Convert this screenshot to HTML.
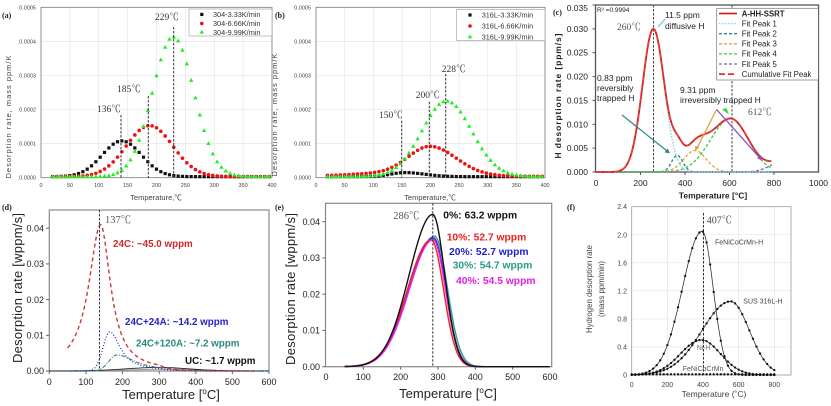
<!DOCTYPE html>
<html><head><meta charset="utf-8">
<style>
html,body{margin:0;padding:0;background:#fff;}
svg{display:block;}
text{font-family:"Liberation Sans",Arial,"Noto Sans CJK SC",sans-serif;}
.sf{font-family:"Liberation Serif","Noto Serif CJK SC",serif;}
</style></head>
<body>
<svg id="s" width="831" height="406" viewBox="0 0 831 406" xmlns="http://www.w3.org/2000/svg">
<rect width="831" height="406" fill="#fff"/>

<!-- ================= (a) ================= -->
<g stroke="#e2e2e2" stroke-width="0.6">
<line x1="69.9" y1="7.3" x2="69.9" y2="177.7"/><line x1="98.75" y1="7.3" x2="98.75" y2="177.7"/><line x1="127.6" y1="7.3" x2="127.6" y2="177.7"/><line x1="156.5" y1="7.3" x2="156.5" y2="177.7"/><line x1="185.4" y1="7.3" x2="185.4" y2="177.7"/><line x1="214.25" y1="7.3" x2="214.25" y2="177.7"/><line x1="243.1" y1="7.3" x2="243.1" y2="177.7"/>
<line x1="41" y1="143.6" x2="272" y2="143.6"/><line x1="41" y1="109.5" x2="272" y2="109.5"/><line x1="41" y1="75.5" x2="272" y2="75.5"/><line x1="41" y1="41.4" x2="272" y2="41.4"/>
</g>
<rect x="41" y="7.3" width="231" height="170.4" fill="none" stroke="#777" stroke-width="0.8"/>
<g font-size="5.5" fill="#444" text-anchor="end">
<text x="36" y="9.3">0.0005</text><text x="36" y="43.4">0.0004</text><text x="36" y="77.5">0.0003</text><text x="36" y="111.5">0.0002</text><text x="36" y="145.6">0.0001</text><text x="36" y="179.7">0.0000</text>
</g>
<g font-size="5.5" fill="#444" text-anchor="middle">
<text x="41" y="187">0</text><text x="69.9" y="187">50</text><text x="98.75" y="187">100</text><text x="127.6" y="187">150</text><text x="156.5" y="187">200</text><text x="185.4" y="187">250</text><text x="214.25" y="187">300</text><text x="243.1" y="187">350</text><text x="272" y="187">400</text>
</g>
<text transform="translate(11,117) rotate(-90)" font-size="7.5" fill="#444" text-anchor="middle" textLength="123">Desorption rate, mass ppm/K</text>
<text x="156" y="200" font-size="7.5" fill="#444" text-anchor="middle">Temperature,℃</text>
<text x="2" y="18" class="sf" font-size="8" font-weight="bold" fill="#222">(a)</text>
<g id="ga"></g>
<g stroke="#333" stroke-width="1" stroke-dasharray="2.5,1.5">
<line x1="121" y1="115" x2="121" y2="178"/><line x1="148.3" y1="96" x2="148.3" y2="178"/><line x1="173.7" y1="27" x2="173.7" y2="178"/>
</g>
<g class="sf" font-size="9.5" fill="#333">
<text x="155" y="20" class="sf">229℃</text><text x="117" y="92" class="sf">185℃</text><text x="97" y="112" class="sf">136℃</text>
</g>
<rect x="189" y="9" width="83" height="27" fill="#fff" stroke="#999" stroke-width="0.6"/>
<rect x="200.2" y="12.8" width="3.2" height="3.2" fill="#111"/>
<circle cx="201.8" cy="23.5" r="1.8" fill="#ee1111"/>
<path d="M201.8 29.7L204 33.6L199.6 33.6Z" fill="#22ee22"/>
<g font-size="7.3" fill="#333">
<text x="213" y="17">304-3.33K/min</text><text x="213" y="26">304-6.66K/min</text><text x="213" y="35">304-9.99K/min</text>
</g>

<!-- ================= (b) ================= -->
<g stroke="#e2e2e2" stroke-width="0.6">
<line x1="344.6" y1="7.3" x2="344.6" y2="177.7"/><line x1="373.25" y1="7.3" x2="373.25" y2="177.7"/><line x1="401.9" y1="7.3" x2="401.9" y2="177.7"/><line x1="430.5" y1="7.3" x2="430.5" y2="177.7"/><line x1="459.1" y1="7.3" x2="459.1" y2="177.7"/><line x1="487.75" y1="7.3" x2="487.75" y2="177.7"/><line x1="516.4" y1="7.3" x2="516.4" y2="177.7"/>
<line x1="316" y1="143.6" x2="545" y2="143.6"/><line x1="316" y1="109.5" x2="545" y2="109.5"/><line x1="316" y1="75.5" x2="545" y2="75.5"/><line x1="316" y1="41.4" x2="545" y2="41.4"/>
</g>
<rect x="316" y="7.3" width="229" height="170.4" fill="none" stroke="#777" stroke-width="0.8"/>
<g font-size="5.5" fill="#444" text-anchor="end">
<text x="311" y="9.3">0.0005</text><text x="311" y="43.4">0.0004</text><text x="311" y="77.5">0.0003</text><text x="311" y="111.5">0.0002</text><text x="311" y="145.6">0.0001</text><text x="311" y="179.7">0.0000</text>
</g>
<g font-size="5.5" fill="#444" text-anchor="middle">
<text x="316" y="187">0</text><text x="344.6" y="187">50</text><text x="373.25" y="187">100</text><text x="401.9" y="187">150</text><text x="430.5" y="187">200</text><text x="459.1" y="187">250</text><text x="487.75" y="187">300</text><text x="516.4" y="187">350</text><text x="545" y="187">400</text>
</g>
<text transform="translate(277,115) rotate(-90)" font-size="7.5" fill="#444" text-anchor="middle" textLength="123">Desorption rate, mass ppm/K</text>
<text x="430" y="200" font-size="7.5" fill="#444" text-anchor="middle">Temperature,℃</text>
<text x="275" y="18" class="sf" font-size="8" font-weight="bold" fill="#222">(b)</text>
<g id="gb"></g>
<g stroke="#333" stroke-width="1" stroke-dasharray="2.5,1.5">
<line x1="401.7" y1="120.7" x2="401.7" y2="178"/><line x1="429.3" y1="101.7" x2="429.3" y2="178"/><line x1="445.7" y1="74" x2="445.7" y2="178"/>
</g>
<g font-size="9.5" fill="#333">
<text x="441.7" y="72" class="sf">228℃</text><text x="415.7" y="98" class="sf">200℃</text><text x="379" y="118" class="sf">150℃</text>
</g>
<rect x="456.7" y="9.3" width="88.3" height="31.4" fill="#fff" stroke="#999" stroke-width="0.6"/>
<rect x="468.4" y="13.4" width="3.2" height="3.2" fill="#111"/>
<circle cx="470" cy="26" r="1.8" fill="#ee1111"/>
<path d="M470 34.4L472.2 38.3L467.8 38.3Z" fill="#22ee22"/>
<g font-size="7.3" fill="#333">
<text x="481.7" y="17.6">316L-3.33K/min</text><text x="481.7" y="28.6">316L-6.66K/min</text><text x="481.7" y="39.3">316L-9.99K/min</text>
</g>

<!-- ================= (c) ================= -->
<rect x="595.5" y="5" width="223" height="167" fill="none" stroke="#555" stroke-width="1.3"/>
<g stroke="#555" stroke-width="1">
<line x1="592.5" y1="5" x2="595.5" y2="5"/><line x1="592.5" y1="28.9" x2="595.5" y2="28.9"/><line x1="592.5" y1="52.7" x2="595.5" y2="52.7"/><line x1="592.5" y1="76.6" x2="595.5" y2="76.6"/><line x1="592.5" y1="100.4" x2="595.5" y2="100.4"/><line x1="592.5" y1="124.3" x2="595.5" y2="124.3"/><line x1="592.5" y1="148.1" x2="595.5" y2="148.1"/><line x1="592.5" y1="172" x2="595.5" y2="172"/>
<line x1="640.5" y1="172" x2="640.5" y2="175"/><line x1="685" y1="172" x2="685" y2="175"/><line x1="729.5" y1="172" x2="729.5" y2="175"/><line x1="774" y1="172" x2="774" y2="175"/>
</g>
<g font-size="8.5" fill="#222" text-anchor="end">
<text x="588" y="11">0.035</text><text x="588" y="32">0.030</text><text x="588" y="55.7">0.025</text><text x="588" y="79.6">0.020</text><text x="588" y="103.4">0.015</text><text x="588" y="127.3">0.010</text><text x="588" y="151.1">0.005</text><text x="588" y="175">0.000</text>
</g>
<g font-size="8.5" fill="#222" text-anchor="middle">
<text x="596" y="186">0</text><text x="640.5" y="186">200</text><text x="685" y="186">400</text><text x="729.5" y="186">600</text><text x="774" y="186">800</text><text x="818.5" y="186">1000</text>
</g>
<text transform="translate(561,96) rotate(-90)" font-size="8.5" font-weight="bold" fill="#222" text-anchor="middle" textLength="125">H desorption rate [ppm/s]</text>
<text x="713" y="198.5" font-size="8.5" font-weight="bold" fill="#222" text-anchor="middle">Temperature [°C]</text>
<text x="553" y="15" class="sf" font-size="8" font-weight="bold" fill="#222">(c)</text>
<g stroke="#444" stroke-width="1" stroke-dasharray="2.5,1.5">
<line x1="653.5" y1="5" x2="653.5" y2="172"/><line x1="732" y1="5" x2="732" y2="172"/>
</g>
<g id="gc"></g>
<!-- arrows -->
<line x1="665" y1="19" x2="658" y2="27" stroke="#66c8e0" stroke-width="1.2"/>
<line x1="622" y1="115" x2="667" y2="151" stroke="#2a8a80" stroke-width="1.2"/>
<path d="M670 153.5L664.5 152.35L667.65 148.45Z" fill="#2a8a80"/>
<line x1="716.6" y1="109.5" x2="697.5" y2="147" stroke="#e8a040" stroke-width="1.3"/>
<path d="M695 151L695.25 145.45L699.35 147.55Z" fill="#e8a040"/>
<line x1="716.6" y1="109.5" x2="759.5" y2="157.5" stroke="#8a4fc0" stroke-width="1.3"/>
<path d="M762 160.5L757 158.3L760.4 155.3Z" fill="#8a4fc0"/>
<path d="M729 114.5L722 109.5L726.5 108Z" fill="#44cc44"/>
<g font-size="8.5" fill="#222">
<text x="597" y="12" font-size="6.5">R² =0.9994</text>
<text x="665" y="18">11.5 ppm</text><text x="665" y="29">diffusive H</text>
<text x="597" y="81">0.83 ppm</text><text x="597" y="91">reversibly</text><text x="597" y="101">trapped H</text>
<text x="680" y="93">9.31 ppm</text><text x="680" y="103">irreversibly trapped H</text>
</g>
<text x="617" y="30" class="sf" font-size="9.5" fill="#555">260℃</text>
<text x="748" y="115" class="sf" font-size="9.5" fill="#555">612℃</text>
<!-- legend c -->
<rect x="716.7" y="8.3" width="101.6" height="71.7" fill="#fff" stroke="#777" stroke-width="0.7"/>
<line x1="719" y1="13.5" x2="737" y2="13.5" stroke="#cc2222" stroke-width="1.8"/>
<line x1="719" y1="23.6" x2="737" y2="23.6" stroke="#7fd0e8" stroke-width="1.3" stroke-dasharray="1.5,1.5"/>
<line x1="719" y1="33.7" x2="737" y2="33.7" stroke="#2a8a90" stroke-width="1.3" stroke-dasharray="3,2"/>
<line x1="719" y1="43.8" x2="737" y2="43.8" stroke="#e8a040" stroke-width="1.3" stroke-dasharray="3,2"/>
<line x1="719" y1="53.9" x2="737" y2="53.9" stroke="#33cc33" stroke-width="1.3" stroke-dasharray="3,2"/>
<line x1="719" y1="64" x2="737" y2="64" stroke="#9955bb" stroke-width="1.3" stroke-dasharray="3,2"/>
<line x1="719" y1="74.1" x2="737" y2="74.1" stroke="#e03030" stroke-width="1.8" stroke-dasharray="6,3"/>
<g font-size="7.8" fill="#222">
<text x="741.7" y="16.3" font-weight="bold">A-HH-SSRT</text><text x="741.7" y="26.4">Fit Peak 1</text><text x="741.7" y="36.5">Fit Peak 2</text><text x="741.7" y="46.6">Fit Peak 3</text><text x="741.7" y="56.7">Fit Peak 4</text><text x="741.7" y="66.8">Fit Peak 5</text><text x="741.7" y="76.9">Cumulative Fit Peak</text>
</g>

<!-- ================= (d) ================= -->
<rect x="49.3" y="210" width="219.7" height="161" fill="none" stroke="#888" stroke-width="1.2"/>
<g stroke="#666" stroke-width="1">
<line x1="46" y1="228.2" x2="49.3" y2="228.2"/><line x1="46" y1="263.9" x2="49.3" y2="263.9"/><line x1="46" y1="299.6" x2="49.3" y2="299.6"/><line x1="46" y1="335.3" x2="49.3" y2="335.3"/><line x1="46" y1="371" x2="49.3" y2="371"/>
<line x1="49.3" y1="371" x2="49.3" y2="374"/><line x1="85.9" y1="371" x2="85.9" y2="374"/><line x1="122.5" y1="371" x2="122.5" y2="374"/><line x1="159.2" y1="371" x2="159.2" y2="374"/><line x1="195.8" y1="371" x2="195.8" y2="374"/><line x1="232.4" y1="371" x2="232.4" y2="374"/><line x1="269" y1="371" x2="269" y2="374"/>
</g>
<g font-size="9" fill="#222" text-anchor="end">
<text x="44" y="231.4">0.04</text><text x="44" y="267.1">0.03</text><text x="44" y="302.8">0.02</text><text x="44" y="338.5">0.01</text><text x="44" y="374.2">0.00</text>
</g>
<g font-size="9" fill="#222" text-anchor="middle">
<text x="49.3" y="385">0</text><text x="85.9" y="385">100</text><text x="122.5" y="385">200</text><text x="159.2" y="385">300</text><text x="195.8" y="385">400</text><text x="232.4" y="385">500</text><text x="269" y="385">600</text>
</g>
<text transform="translate(22,288) rotate(-90)" font-size="13" fill="#222" text-anchor="middle" textLength="150">Desorption rate [wppm/s]</text>
<text x="171" y="399" font-size="13" fill="#222" text-anchor="middle">Temperature [<tspan font-size="8" dy="-5">o</tspan><tspan dy="5">C]</tspan></text>
<text x="2" y="210" class="sf" font-size="8" font-weight="bold" fill="#222">(d)</text>
<g id="gd"></g>
<line x1="99.5" y1="210" x2="99.5" y2="371" stroke="#335" stroke-width="1" stroke-dasharray="2.5,1.5"/>
<text x="105" y="223" class="sf" font-size="10.5" fill="#555">137℃</text>
<g font-size="9.8" font-weight="bold">
<text x="113" y="247" fill="#cc2a2a">24C: ~45.0 wppm</text>
<text x="125" y="325" fill="#2424c8">24C+24A: ~14.2 wppm</text>
<text x="136" y="346.5" fill="#2a8a7a">24C+120A: ~7.2 wppm</text>
<text x="185" y="364" fill="#111">UC: ~1.7 wppm</text>
</g>

<!-- ================= (e) ================= -->
<rect x="325.5" y="203.3" width="226.2" height="163.4" fill="none" stroke="#888" stroke-width="1.2"/>
<g stroke="#666" stroke-width="1">
<line x1="322.3" y1="221.7" x2="325.5" y2="221.7"/><line x1="322.3" y1="257.95" x2="325.5" y2="257.95"/><line x1="322.3" y1="294.2" x2="325.5" y2="294.2"/><line x1="322.3" y1="330.45" x2="325.5" y2="330.45"/><line x1="322.3" y1="366.7" x2="325.5" y2="366.7"/>
<line x1="363.3" y1="366.7" x2="363.3" y2="369.7"/><line x1="400.7" y1="366.7" x2="400.7" y2="369.7"/><line x1="438" y1="366.7" x2="438" y2="369.7"/><line x1="475.3" y1="366.7" x2="475.3" y2="369.7"/><line x1="512.7" y1="366.7" x2="512.7" y2="369.7"/>
</g>
<g font-size="9" fill="#222" text-anchor="end">
<text x="320" y="224.9">0.04</text><text x="320" y="261.1">0.03</text><text x="320" y="297.4">0.02</text><text x="320" y="333.6">0.01</text><text x="320" y="369.9">0.00</text>
</g>
<g font-size="9" fill="#222" text-anchor="middle">
<text x="326" y="380">0</text><text x="363.3" y="380">100</text><text x="400.7" y="380">200</text><text x="438" y="380">300</text><text x="475.3" y="380">400</text><text x="512.7" y="380">500</text><text x="550" y="380">600</text>
</g>
<text transform="translate(295,289) rotate(-90)" font-size="13" fill="#222" text-anchor="middle" textLength="152">Desorption rate [wppm/s]</text>
<text x="448" y="398" font-size="13" fill="#222" text-anchor="middle">Temperature [<tspan font-size="8" dy="-5">o</tspan><tspan dy="5">C]</tspan></text>
<text x="275" y="210" class="sf" font-size="8" font-weight="bold" fill="#222">(e)</text>
<g id="ge"></g>
<line x1="432.8" y1="203.3" x2="432.8" y2="366.7" stroke="#333" stroke-width="1" stroke-dasharray="2.5,1.5"/>
<text x="393.3" y="219" class="sf" font-size="10.5" fill="#555">286℃</text>
<g font-size="10.3" font-weight="bold">
<text x="443.3" y="218.3" fill="#111">0%: 63.2 wppm</text>
<text x="446.7" y="240.7" fill="#ee2020">10%: 52.7 wppm</text>
<text x="449" y="255" fill="#2020cc">20%: 52.7 wppm</text>
<text x="452.7" y="268.3" fill="#2a9a88">30%: 54.7 wppm</text>
<text x="456" y="284" fill="#e020e0">40%: 54.5 wppm</text>
</g>

<!-- ================= (f) ================= -->
<g stroke="#e0e0e0" stroke-width="0.6">
<line x1="667.35" y1="206.7" x2="667.35" y2="375"/><line x1="703" y1="206.7" x2="703" y2="375"/><line x1="738.65" y1="206.7" x2="738.65" y2="375"/><line x1="774.3" y1="206.7" x2="774.3" y2="375"/>
<line x1="631.7" y1="346.95" x2="791" y2="346.95"/><line x1="631.7" y1="318.9" x2="791" y2="318.9"/><line x1="631.7" y1="290.85" x2="791" y2="290.85"/><line x1="631.7" y1="262.8" x2="791" y2="262.8"/><line x1="631.7" y1="234.75" x2="791" y2="234.75"/>
</g>
<rect x="631.7" y="206.7" width="159.3" height="168.3" fill="none" stroke="#999" stroke-width="0.8"/>
<g font-size="7" fill="#444" text-anchor="end">
<text x="627" y="209.2">2.4</text><text x="627" y="237.3">2.0</text><text x="627" y="265.3">1.6</text><text x="627" y="293.4">1.2</text><text x="627" y="321.4">0.8</text><text x="627" y="349.5">0.4</text><text x="627" y="377.5">0</text>
</g>
<g font-size="7" fill="#444" text-anchor="middle">
<text x="631.7" y="387">0</text><text x="667.35" y="387">200</text><text x="703" y="387">400</text><text x="738.65" y="387">600</text><text x="774.3" y="387">800</text>
</g>
<text transform="translate(592,289) rotate(-90)" font-size="7.8" fill="#444" text-anchor="middle">Hydrogen desorption rate</text>
<text transform="translate(604,289) rotate(-90)" font-size="7.8" fill="#444" text-anchor="middle">(mass ppm/min)</text>
<text x="714" y="397" font-size="8.5" fill="#444" text-anchor="middle">Temperature (˚C)</text>
<text x="567" y="210" class="sf" font-size="8" font-weight="bold" fill="#222">(f)</text>
<g id="gf"></g>
<line x1="703.5" y1="213" x2="703.5" y2="375" stroke="#333" stroke-width="1" stroke-dasharray="2.5,1.5"/>
<text x="706.7" y="223.3" class="sf" font-size="10" fill="#444">407℃</text>
<g font-size="7" fill="#444">
<text x="715" y="244.3">FeNiCoCrMn-H</text>
<text x="743.3" y="303.3">SUS 316L-H</text>
<text x="696.7" y="350" fill="#777">Ni-H</text>
<text x="682.7" y="371" fill="#555">FeNiCoCrMn</text>
</g>
</svg>

<script>
(function(){
var NS="http://www.w3.org/2000/svg";
function el(tag,a,p){var e=document.createElementNS(NS,tag);for(var k in a)e.setAttribute(k,a[k]);p.appendChild(e);return e;}
function g(t,A,mu,sl,sr){var s=t<mu?sl:sr;var d=(t-mu)/s;return A*Math.exp(-d*d/2);}
function line(p,X,Y,f,t0,t1,st,attrs){var d="";for(var t=t0;t<=t1+1e-9;t+=st){d+=(d?"L":"M")+X(t).toFixed(2)+" "+Y(f(t)).toFixed(2);}attrs.d=d;attrs.fill="none";el("path",attrs,p);}
function mk(p,X,Y,f,t0,t1,st,type,c){for(var t=t0;t<=t1+1e-9;t+=st){var x=X(t),y=Y(f(t));
 if(type=="sq")el("rect",{x:x-1.6,y:y-1.6,width:3.2,height:3.2,fill:c},p);
 else if(type=="ci")el("circle",{cx:x,cy:y,r:1.8,fill:c},p);
 else if(type=="tr")el("path",{d:"M"+x+" "+(y-2.3)+"L"+(x+2.2)+" "+(y+1.6)+"L"+(x-2.2)+" "+(y+1.6)+"Z",fill:c},p);
 else el("circle",{cx:x,cy:y,r:1.15,fill:c},p);}}

/* (a) */
var ga=document.getElementById("ga");
var Xa=function(t){return 41+t*0.5775;}, Ya=function(v){return 177.7-v*34.08;};
mk(ga,Xa,Ya,function(t){return 0.03+g(t,1.05,140,34,34);},20,400,7.5,"sq","#111");
mk(ga,Xa,Ya,function(t){return 0.03+g(t,1.5,188,40,40);},20,400,7.5,"ci","#ee1111");
mk(ga,Xa,Ya,function(t){return 0.03+g(t,4.1,229,36,36);},20,400,7.5,"tr","#22ee22");

/* (b) */
var gb=document.getElementById("gb");
var Xb=function(t){return 316+t*0.5725;};
mk(gb,Xb,Ya,function(t){return 0.03+g(t,0.12,155,25,35);},20,400,7.5,"sq","#111");
mk(gb,Xb,Ya,function(t){return 0.04+g(t,0.8,200,38,45)+g(t,0.1,150,80,80);},20,400,7.5,"ci","#ee1111");
mk(gb,Xb,Ya,function(t){return 0.03+g(t,2.22,228,43,44);},20,400,7.5,"tr","#22ee22");

/* (c) */
var gc=document.getElementById("gc");
var Xc=function(t){return 596+t*0.2225;}, Yc=function(v){return 172-v*4.771;};
var P1=function(t){return g(t,30,258,49,49);},P2=function(t){return g(t,3.5,365,25,25);},
P3=function(t){return g(t,4.5,445,50,50);},P4=function(t){return g(t,11.2,605,90,80);},
P5=function(t){return g(t,2.5,850,60,60);};
var M=function(t){return P1(t)+P2(t)+P3(t)+P4(t)+P5(t);};
line(gc,Xc,Yc,P5,0,790,5,{stroke:"#9955bb","stroke-width":1.3,"stroke-dasharray":"3,2"});
line(gc,Xc,Yc,P3,0,790,5,{stroke:"#e8a040","stroke-width":1.3,"stroke-dasharray":"3,2"});
line(gc,Xc,Yc,P2,0,790,5,{stroke:"#2a8a90","stroke-width":1.3,"stroke-dasharray":"3,2"});
line(gc,Xc,Yc,P4,0,790,5,{stroke:"#33cc33","stroke-width":1.3,"stroke-dasharray":"3,2"});
line(gc,Xc,Yc,P1,0,790,4,{stroke:"#7fd0e8","stroke-width":1.3,"stroke-dasharray":"1.5,1.5"});
line(gc,Xc,Yc,M,0,790,4,{stroke:"#cc2222","stroke-width":1.8});
line(gc,Xc,Yc,M,0,790,4,{stroke:"#e04040","stroke-width":1.8,"stroke-dasharray":"6,3"});

/* (d) */
var gd=document.getElementById("gd");
var Xd=function(t){return 49.3+t*0.3662;}, Yd=function(v){return 371-v*3.57;};
function tp(t,a,s){return t>a?Math.exp(-(t-a)/s):1;}
var R=function(t){var v=t<140?41/(1+Math.pow((t-140)/38.9,2)):41/(1+Math.pow((t-140)/33,2));return v*tp(t,300,50);};
var B=function(t){var v=t<165?g(t,11,165,18,18):11/(1+Math.pow((t-165)/35,2));return v*tp(t,300,60);};
var T=function(t){var v=t<185?g(t,4.5,185,22,22):4.5/(1+Math.pow((t-185)/60,2));return v*tp(t,320,50);};
var U=function(t){return g(t,1.0,300,90,80);};
line(gd,Xd,Yd,function(t){return g(t,0.5,320,100,100);},0,600,5,{stroke:"#999","stroke-width":1});
line(gd,Xd,Yd,U,0,600,5,{stroke:"#222","stroke-width":0.9});
line(gd,Xd,Yd,T,60,600,3,{stroke:"#3a9080","stroke-width":1.2,"stroke-dasharray":"4,1.5,1,1.5"});
line(gd,Xd,Yd,B,60,600,3,{stroke:"#3030c0","stroke-width":1.3,"stroke-dasharray":"1,2"});
line(gd,Xd,Yd,R,50,560,2.5,{stroke:"#c83a3a","stroke-width":1.4,"stroke-dasharray":"4,3"});

/* (e) */
var ge=document.getElementById("ge");
var Xe=function(t){return 326+t*0.3733;}, Ye=function(v){return 366.7-v*3.625;};
line(ge,Xe,Ye,function(t){return g(t,36,291,67,34);},50,600,3,{stroke:"#2aa090","stroke-width":1.4});
line(ge,Xe,Ye,function(t){return g(t,35.5,288,65,33);},50,600,3,{stroke:"#2020dd","stroke-width":1.4});
line(ge,Xe,Ye,function(t){return g(t,35,282,64,33);},50,600,3,{stroke:"#ee2020","stroke-width":1.4});
line(ge,Xe,Ye,function(t){return g(t,35,287,64,33);},50,600,3,{stroke:"#ee22ee","stroke-width":1.4});
line(ge,Xe,Ye,function(t){return g(t,42,286,63,32);},50,600,3,{stroke:"#111","stroke-width":1.4});

/* (f) */
var gf=document.getElementById("gf");
var Xf=function(t){return 631.7+t*0.17825;}, Yf=function(v){return 375-v*70.125;};
var FA=function(t){return g(t,2.05,395,110,62);}, FB=function(t){return g(t,1.05,555,160,105);},
FC=function(t){return g(t,0.5,390,116,108);}, FD=function(t){return 0.01;};
line(gf,Xf,Yf,FD,0,800,5,{stroke:"#888","stroke-width":0.8,"stroke-dasharray":"1.5,1.5"});
[FA,FB,FC].forEach(function(f){line(gf,Xf,Yf,f,0,800,4,{stroke:"#333","stroke-width":0.8});});
[FA,FB,FC,FD].forEach(function(f){mk(gf,Xf,Yf,f,0,800,20,"dot","#111");});
})();
</script>
</body></html>
